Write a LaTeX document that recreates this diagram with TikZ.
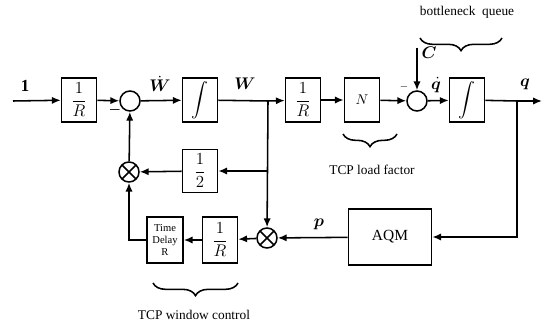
\documentclass[tikz,border=0pt]{standalone}
\usepackage{fontspec}
\setmainfont{Liberation Serif}
\usepackage{amsmath}
\usepackage{bm}
\usetikzlibrary{arrows.meta,calc,decorations.pathreplacing}

\begin{document}
\begin{tikzpicture}[x=0.025cm,y=-0.025cm,line width=1.1pt,
    >={Latex[length=2.2mm,width=1.8mm]},
    blk/.style={draw,minimum width=0.875cm,minimum height=1.1cm,inner sep=0pt,font=\large},
    sumc/.style={draw,circle,minimum size=0.5cm,inner sep=0pt},
    mulc/.style={sumc,path picture={
      \draw (path picture bounding box.north west) -- (path picture bounding box.south east)
            (path picture bounding box.north east) -- (path picture bounding box.south west);}},
    sig/.style={font=\large},
    captxt/.style={font=\fontsize{9.5}{11}\selectfont},
    brc/.style={decorate,decoration={brace,amplitude=9pt}}]
  \useasboundingbox (0,0) rectangle (544,327);
  % forward path
  \coordinate (in) at (13,101);
  \node[blk] (r1) at (79,100) {$\dfrac{1}{R}$};
  \node[sumc] (s1) at (130,101) {};
  \node[blk] (int1) at (200,100) {$\displaystyle\int$};
  \coordinate (wb) at (268,101);
  \node[blk] (r2) at (303,100) {$\dfrac{1}{R}$};
  \node[blk,font=\normalsize] (nN) at (362,100) {$N$};
  \node[sumc] (s2) at (417,101) {};
  \node[blk] (int2) at (467,100) {$\displaystyle\int$};
  \coordinate (qb) at (517,101);
  \coordinate (qout) at (542,101);
  \coordinate (cin) at (417,48);
  % feedback path
  \node[blk,minimum height=1.075cm] (half) at (200,171) {$\dfrac{1}{2}$};
  \node[mulc] (m1) at (129,172) {};
  \node[mulc] (m2) at (267,238) {};
  \node[blk,minimum height=1.15cm] (r3) at (220,240) {$\dfrac{1}{R}$};
  \node[blk,minimum width=0.9cm,minimum height=1.15cm,align=center,
        font=\fontsize{7.5}{8.5}\selectfont] (td) at (165,240) {Time\\Delay\\R};
  \node[draw,minimum width=2.075cm,minimum height=1.4cm,
        font=\fontsize{11}{13}\selectfont] (aqm) at (390,237) {AQM};
  % connectors
  \foreach \a/\b in {in/r1,r1/s1,s1/int1,r2/nN,nN/s2,s2/int2,cin/s2}
    \draw[->] (\a) -- (\b);
  \draw (int1) -- (wb);
  \draw[->] (wb) -- (r2);
  \draw (int2) -- (qb);
  \draw[->] (qb) -- (qout);
  \draw[->] (wb) -- (m2);
  \draw[->] (wb |- half) -- (half);
  \draw[->] (half) -- (m1);
  \draw[->] (m1) -- (s1);
  \draw[->] (qb) |- (aqm);
  \draw[->] (aqm) -- (m2);
  \draw[->] (m2) -- (r3);
  \draw[->] (r3) -- (td);
  \draw[->] (td) -| (m1);
  % signal labels
  \node[sig] (l1) at (25,86) {$\mathbf{1}$};
  \node[sig] (lwd) at (160,84) {$\bm{\dot{W}}$};
  \node[sig] (lw) at (245,84) {$\bm{W}$};
  \node[sig] (lqd) at (436,85) {$\bm{\dot{q}}$};
  \node[sig] (lq) at (525,84) {$\bm{q}$};
  \node[sig] (lc) at (429,53) {$\bm{C}$};
  \node[sig] (lp) at (319,224) {$\bm{p}$};
  \node (mn1) at (115,110) {$\bm{-}$};
  \node[font=\scriptsize] (mn2) at (404,87) {$-$};
  % braces
  \draw[brc] (502,38) -- (420,38);
  \draw[brc] (397,134) -- (343,134);
  \draw[brc] (238,283) -- (153,283);
  \node[captxt] (tq) at (467,12) {bottleneck\ \ queue};
  \node[captxt] (tl) at (372,170) {TCP load factor};
  \node[captxt] (tw) at (194,315) {TCP window control};
\end{tikzpicture}
\end{document}
